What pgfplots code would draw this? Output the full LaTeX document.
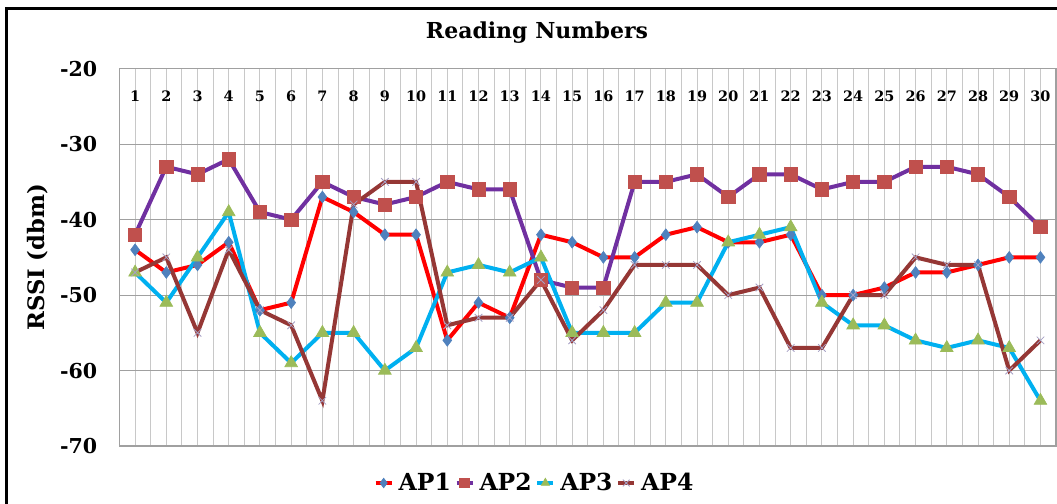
\documentclass[border=0pt]{standalone}
\usepackage{pgfplots}
\pgfplotsset{compat=1.18}
\usepackage{fontspec}
\setmainfont{DejaVu Serif}
\definecolor{apone}{HTML}{FF0000}
\definecolor{aponem}{HTML}{4F81BD}
\definecolor{aptwo}{HTML}{7030A0}
\definecolor{aptwom}{HTML}{C0504D}
\definecolor{apthree}{HTML}{00B0F0}
\definecolor{apthreem}{HTML}{9BBB59}
\definecolor{apfour}{HTML}{953735}
\definecolor{apfourm}{HTML}{A6A0C4}
\definecolor{gridg}{HTML}{C8C8C8}
\definecolor{hgrid}{HTML}{A0A0A0}
\begin{document}
\begin{tikzpicture}
\begin{axis}[
  at={(0,0)}, anchor=south west,
  scale only axis, width=702.4pt, height=283pt,
  xmin=0.5, xmax=30.5, ymin=-70, ymax=-20,
  xtick={1,...,30},
  minor xtick={0.5,1.5,...,30.5},
  ytick={-70,-60,...,-20},
  xmajorgrids, xminorgrids, ymajorgrids,
  major x grid style={gridg, line width=0.75pt},
  minor x grid style={gridg, line width=0.75pt},
  major y grid style={hgrid, line width=0.75pt},
  axis line style={hgrid, line width=0.9pt},
  major tick length=0pt, minor tick length=0pt,
  /pgf/number format/assume math mode=true,
  xticklabel pos=upper,
  xticklabel style={anchor=center, yshift=-20.5pt, font=\fontsize{10.8}{12}\selectfont\bfseries},
  yticklabel style={anchor=east, inner sep=0pt, xshift=-16.5pt, font=\fontsize{15.4}{17}\selectfont\bfseries},
  ylabel={RSSI (dbm)},
  every axis y label/.style={at={(axis description cs:-0.087,0.5)}, rotate=90, anchor=center, font=\fontsize{17}{19}\selectfont\bfseries},
  title={Reading Numbers},
  every axis title/.style={at={(axis description cs:0.4458,1.0946)}, anchor=center, font=\fontsize{16.5}{18}\selectfont\bfseries},
  legend columns=4,
  legend style={at={(axis description cs:0.4437,-0.098)}, anchor=center, draw=none, fill=none,
    font=\fontsize{17.6}{19}\selectfont\bfseries, inner sep=0pt,
    /tikz/every even column/.append style={column sep=1pt},
    /tikz/every odd column/.append style={column sep=2pt}},
  legend image code/.code={\draw[mark repeat=2,mark phase=2, line width=2.5pt, mark size=3.6pt] plot coordinates {(0pt,0pt) (6pt,0pt) (12pt,0pt)};},
  every axis plot/.append style={line width=3pt},
]
\addplot[apone, mark=diamond*, mark size=4.4pt, mark options={aponem, fill=aponem, line width=0.5pt}] coordinates {
(1,-44)(2,-47)(3,-46)(4,-43)(5,-52)(6,-51)(7,-37)(8,-39)(9,-42)(10,-42)
(11,-56)(12,-51)(13,-53)(14,-42)(15,-43)(16,-45)(17,-45)(18,-42)(19,-41)(20,-43)
(21,-43)(22,-42)(23,-50)(24,-50)(25,-49)(26,-47)(27,-47)(28,-46)(29,-45)(30,-45)};
\addlegendentry{AP1}
\addplot[aptwo, mark=square*, mark size=5pt, mark options={aptwom, fill=aptwom, line width=0.5pt}] coordinates {
(1,-42)(2,-33)(3,-34)(4,-32)(5,-39)(6,-40)(7,-35)(8,-37)(9,-38)(10,-37)
(11,-35)(12,-36)(13,-36)(14,-48)(15,-49)(16,-49)(17,-35)(18,-35)(19,-34)(20,-37)
(21,-34)(22,-34)(23,-36)(24,-35)(25,-35)(26,-33)(27,-33)(28,-34)(29,-37)(30,-41)};
\addlegendentry{AP2}
\addplot[apthree, mark=triangle*, mark size=5.5pt, mark options={apthreem, fill=apthreem, line width=0.5pt}] coordinates {
(1,-47)(2,-51)(3,-45)(4,-39)(5,-55)(6,-59)(7,-55)(8,-55)(9,-60)(10,-57)
(11,-47)(12,-46)(13,-47)(14,-45)(15,-55)(16,-55)(17,-55)(18,-51)(19,-51)(20,-43)
(21,-42)(22,-41)(23,-51)(24,-54)(25,-54)(26,-56)(27,-57)(28,-56)(29,-57)(30,-64)};
\addlegendentry{AP3}
\addplot[apfour, mark=x, mark size=4pt, mark options={apfourm, line width=0.6pt}] coordinates {
(1,-47)(2,-45)(3,-55)(4,-44)(5,-52)(6,-54)(7,-64)(8,-38)(9,-35)(10,-35)
(11,-54)(12,-53)(13,-53)(14,-48)(15,-56)(16,-52)(17,-46)(18,-46)(19,-46)(20,-50)
(21,-49)(22,-57)(23,-57)(24,-50)(25,-50)(26,-45)(27,-46)(28,-46)(29,-60)(30,-56)};
\addlegendentry{AP4}
\end{axis}
\draw[overlay, black, line width=2.25pt] (-84.4pt,-60pt) -- (-84.4pt,327.75pt) -- (720pt,327.75pt);
\pgfresetboundingbox
\path[use as bounding box] (-89.6pt,-42.75pt) rectangle (703.1pt,334.5pt);
\end{tikzpicture}
\end{document}
